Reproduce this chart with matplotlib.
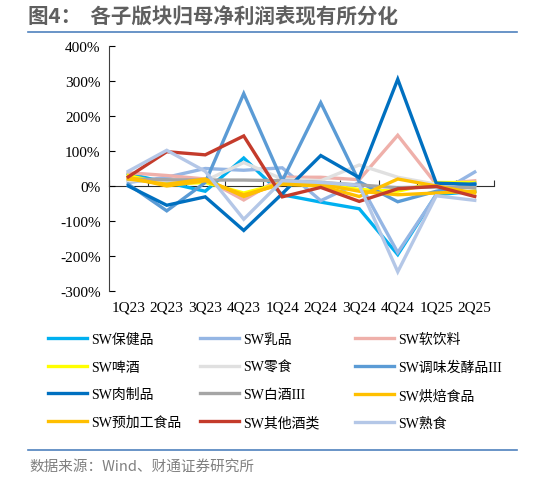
import matplotlib
matplotlib.use("Agg")
import matplotlib.pyplot as plt
from matplotlib.ticker import FuncFormatter

plt.rcParams['font.family'] = ['Liberation Serif', 'Noto Sans CJK SC', 'DejaVu Sans']

categories = ['1Q23', '2Q23', '3Q23', '4Q23', '1Q24', '2Q24', '3Q24', '4Q24', '1Q25', '2Q25']

baojianpin = [35, 10, -15, 80, -25, -46, -65, -196, -25, -15]
rupin = [10, 25, 50, 45, 52, -42, 10, -190, -25, 40]
ruanyinliao = [38, 30, 20, -40, 25, 25, 18, 145, 5, 15]
pijiu = [30, 5, 10, -20, 8, 5, -10, -15, 10, 10]
lingshi = [15, 15, 15, 67, 20, 15, 60, 25, 5, 0]
tiaowei = [5, -71, 10, 264, 15, 238, 12, -45, -15, 7]
rouzhipin = [0, -55, -31, -127, -22, 87, 24, 305, 8, 5]
baijiu = [20, 18, 17, 17, 15, 10, 3, -5, -3, -5]
hongbei = [25, 0, 15, -25, 5, 0, -30, 20, 0, -20]
yujiagong = [20, 5, 20, -30, 10, 5, -15, -25, -20, -15]
qitajiu = [26, 98, 89, 143, -31, -4, -44, -8, -1, -30]
shushi = [42, 102, 42, -95, 15, 10, 2, -245, -28, -41]

names = ['SW保健品', 'SW乳品', 'SW软饮料', 'SW啤酒', 'SW零食', 'SW调味发酵品III',
         'SW肉制品', 'SW白酒III', 'SW烘焙食品', 'SW预加工食品', 'SW其他酒类', 'SW熟食']
series = [baojianpin, rupin, ruanyinliao, pijiu, lingshi, tiaowei,
          rouzhipin, baijiu, hongbei, yujiagong, qitajiu, shushi]
colors = ['#00B0F0', '#95B6E4', '#EFB0AA', '#FFFF00', '#E0E0E0', '#5B9BD5',
          '#0070C0', '#A5A5A5', '#FFC000', '#FFBF00', '#C43B2B', '#B4C7E7']

fig = plt.figure(figsize=(5.33, 4.81), dpi=100)
ax = fig.add_axes([109/533, 1-292/481, 385/533, 245/481])

x = list(range(len(categories)))
handles = []
for name, vals, c in zip(names, series, colors):
    h, = ax.plot(x, vals, color=c, lw=2.4, solid_joinstyle='miter')
    handles.append(h)

ax.set_xlim(-0.5, len(categories) - 0.5)
ax.set_ylim(-300, 400)
ax.set_yticks(range(-300, 401, 100))
ax.yaxis.set_major_formatter(FuncFormatter(lambda v, p: f'{int(v)}%'))
ax.tick_params(axis='y', direction='in', length=4, labelsize=11, colors='#000000', pad=6)
for s in ['top', 'right']:
    ax.spines[s].set_visible(False)
ax.spines['left'].set_color('#404040')
ax.spines['bottom'].set_visible(False)

ax.set_xticks(x)
ax.set_xticklabels(categories, fontsize=11)
ax.tick_params(axis='x', length=0, pad=7)

sec = ax.secondary_xaxis(3/7)
sec.set_xticks([i + 0.5 for i in range(-1, len(categories))])
sec.spines['top'].set_visible(False)
sec.spines['bottom'].set_visible(True)
sec.spines['bottom'].set_color('#303030')
sec.xaxis.set_ticks_position('bottom')
sec.tick_params(axis='x', direction='in', length=4, labelbottom=False, bottom=True,
                top=False, color='#303030')

# legend: three columns, row-major order, equal column widths
col_x = [48, 200, 355]
ncol = 3
for col in range(ncol):
    idx = [r * ncol + col for r in range(4)]
    leg = fig.legend([handles[i] for i in idx], [names[i] for i in idx],
                     loc='upper left', bbox_to_anchor=(col_x[col]/533, 1-334/481),
                     frameon=False, fontsize=10, handlelength=2.8, handletextpad=0.3,
                     labelspacing=1.05, borderaxespad=0, borderpad=0)
    for t in leg.get_texts():
        t.set_family(['Liberation Serif', 'Noto Sans CJK SC'])

fig.text(28/533, 1-17/481, '图4：  各子版块归母净利润表现有所分化', fontsize=14.8, fontweight='bold',
         color='#5F5F5F', family=['Noto Sans CJK SC'], va='center', ha='left')
fig.add_artist(plt.Line2D([28/533, 517/533], [1-33/481, 1-33/481], color='#4F81BD', lw=1.2))
fig.add_artist(plt.Line2D([28/533, 517/533], [1-451/481, 1-451/481], color='#4F81BD', lw=1.2))
fig.text(29/533, 1-467/481, '数据来源：Wind、财通证券研究所', fontsize=10.5, color='#808080',
         family=['Noto Sans CJK SC'], va='center', ha='left')

fig.savefig('out.png', dpi=100)
